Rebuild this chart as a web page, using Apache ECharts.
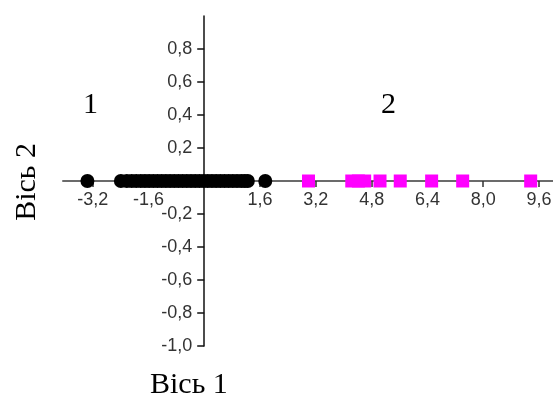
<!DOCTYPE html>
<html>
<head>
<meta charset="utf-8">
<title>Вісь 1 / Вісь 2</title>
<script src="https://cdn.jsdelivr.net/npm/echarts@6/dist/echarts.min.js"></script>
<style>
  html, body { margin: 0; padding: 0; background: #fff; }
  #chart { width: 553px; height: 403px; }
</style>
</head>
<body>
<div id="chart"></div>
<script>
// Group 1 (black circles) - positions along axis 1, all at 0 on axis 2
const group1X = [-3.35, -2.39, -2.22, -2.08, -1.95, -1.82, -1.7, -1.58, -1.46, -1.34,
    -1.22, -1.1, -0.98, -0.86, -0.74, -0.62, -0.5, -0.38, -0.26, -0.14, -0.02,
    0.1, 0.22, 0.34, 0.46, 0.58, 0.7, 0.82, 0.94, 1.06, 1.16, 1.25, 1.75];
// Group 2 (magenta squares)
const group2X = [2.99, 4.23, 4.42, 4.6, 5.04, 5.62, 6.52, 7.41, 9.36];

// Tick labels shown on the axes
const xTickValues = [-3.2, -1.6, 1.6, 3.2, 4.8, 6.4, 8.0, 9.6];
const yTickValues = [-1.0, -0.8, -0.6, -0.4, -0.2, 0.2, 0.4, 0.6, 0.8];

const groupLabels = ['1', '2'];
const xTitle = 'Вісь 1';
const yTitle = 'Вісь 2';

document.addEventListener('DOMContentLoaded', function() {
    const chart = echarts.init(document.getElementById('chart'));

    const fmt = function(v) {
        return Number(v).toFixed(1).replace('.', ',');
    };
    const titleFont = {
        fontFamily: 'Liberation Serif',
        fontSize: 30,
        fill: '#000'
    };

    // grid: 490 x 330 px, x from -4.05 to 10 and y from -1 to 1,
    // so the zero lines sit 141px right of the left edge and 165px above the bottom
    const option = {
        animation: false,
        grid: {
            left: 63,
            right: 0,
            top: 16,
            bottom: 57,
            containLabel: false,
            outerBoundsMode: 'none'
        },
        xAxis: {
            type: 'value',
            position: 'bottom',
            offset: -165,
            min: -4.05,
            max: 10.0,
            splitLine: { show: false },
            axisLine: {
                onZero: false,
                lineStyle: { color: '#6b6b6b', width: 2 }
            },
            axisTick: {
                customValues: xTickValues,
                length: 6,
                lineStyle: { color: '#333', width: 1.5 }
            },
            axisLabel: {
                customValues: xTickValues,
                formatter: fmt,
                margin: 10,
                color: '#333',
                fontFamily: 'Liberation Sans',
                fontSize: 18
            }
        },
        yAxis: {
            type: 'value',
            position: 'left',
            offset: -141.2,
            min: -1.0,
            max: 1.0,
            splitLine: { show: false },
            axisLine: {
                onZero: false,
                lineStyle: { color: '#111', width: 1.5 }
            },
            axisTick: {
                customValues: yTickValues,
                length: 7,
                lineStyle: { color: '#111', width: 1.5 }
            },
            axisLabel: {
                customValues: yTickValues,
                formatter: fmt,
                margin: 12,
                color: '#333',
                fontFamily: 'Liberation Sans',
                fontSize: 18
            }
        },
        series: [
            {
                name: 'group1',
                type: 'scatter',
                symbol: 'circle',
                symbolSize: 14,
                itemStyle: { color: '#000', opacity: 1 },
                data: group1X.map(x => [x, 0])
            },
            {
                name: 'group2',
                type: 'scatter',
                symbol: 'rect',
                symbolSize: 13,
                itemStyle: { color: '#ff00ff', opacity: 1 },
                data: group2X.map(x => [x, 0])
            }
        ],
        graphic: [
            {
                type: 'text', left: 83, top: 90,
                style: Object.assign({ text: groupLabels[0] }, titleFont)
            },
            {
                type: 'text', left: 381, top: 90,
                style: Object.assign({ text: groupLabels[1] }, titleFont)
            },
            {
                type: 'text', left: 150, top: 370,
                style: Object.assign({ text: xTitle }, titleFont)
            },
            {
                type: 'text', left: 12, top: 143, rotation: Math.PI / 2,
                style: Object.assign({ text: yTitle }, titleFont)
            }
        ]
    };

    chart.setOption(option);
});
</script>
</body>
</html>
